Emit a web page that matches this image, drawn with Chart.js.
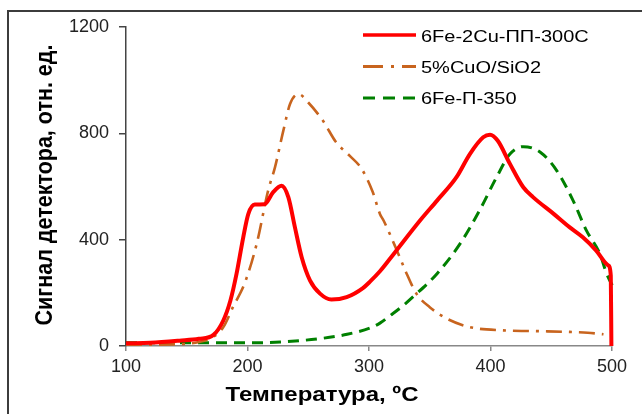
<!DOCTYPE html>
<html>
<head>
<meta charset="utf-8">
<script src="https://cdn.jsdelivr.net/npm/chart.js@4/dist/chart.umd.min.js"></script>
<style>
  html, body { margin: 0; padding: 0; background: #fff; }
  #wrap { width: 642px; height: 414px; position: relative; }
</style>
</head>
<body>
<div id="wrap"><canvas id="tprChart"></canvas></div>
<script>
// series labels
const seriesNames = ['6Fe-2Cu-ПП-300C', '5%CuO/SiO2', '6Fe-П-350'];

// 6Fe-2Cu-ПП-300C
const redT = [100, 120, 144, 160, 172, 180, 186, 191, 196.5, 200.7, 206, 214, 221, 228, 233.6, 239, 244.6, 251.4, 259.7, 269, 281.6, 295, 301, 309, 321, 342, 356, 372, 383, 394, 399.6, 406, 416, 427, 435, 452, 465, 476, 487, 497, 499, 499.5];
const redS = [10, 12, 20, 27, 42, 95, 172, 272, 409, 497, 532, 533, 578, 603, 560, 447, 334, 247, 197, 175, 184, 218, 243, 281, 350, 472, 547, 635, 722, 785, 795, 772, 685, 597, 560, 497, 447, 409, 359, 303, 265, 0];

// 5%CuO/SiO2
const orangeT = [100, 140, 160, 172, 180, 188, 198, 207.6, 217, 222.6, 229.5, 235, 242, 250, 262, 273, 284, 294, 303, 309, 312, 323, 331, 339, 350, 364, 383, 410, 438, 465, 480, 493];
const orangeS = [5, 6, 15, 35, 70, 146, 240, 385, 585, 672, 810, 910, 948, 916, 848, 766, 716, 666, 580, 497, 472, 359, 272, 197, 146, 103, 71, 59, 56, 53, 50, 44];

// 6Fe-П-350
const greenT = [100, 150, 200, 227, 260, 282, 301, 309, 317, 327, 336.5, 356, 375, 391, 405, 416, 427, 441, 454.5, 468, 479, 490, 495.6, 502.5];
const greenS = [12, 12, 12, 15, 28, 44, 68, 86, 113, 148, 186, 272, 385, 510, 635, 722, 750, 729, 660, 547, 434, 347, 272, 209];

const xTicks = [100, 200, 300, 400, 500];
const yTicks = [0, 400, 800, 1200];

const colors = ['#ff0000', '#c8641e', '#008000'];
const dashes = [[], [16, 7, 3, 7], [11, 7]];
const widths = [4, 2.6, 3];

function pts(xs, ys) {
  return xs.map((x, i) => ({ x: x, y: ys[i] }));
}

const seriesData = [pts(redT, redS), pts(orangeT, orangeS), pts(greenT, greenS)];

const decor = {
  id: 'decor',
  afterDraw(chart) {
    const ctx = chart.ctx;
    ctx.save();
    // outer frame (cut by page edges)
    ctx.strokeStyle = '#3c3c3c';
    ctx.lineWidth = 2;
    ctx.strokeRect(8, 11, 700, 500);

    ctx.fillStyle = '#000';
    // x title
    ctx.save();
    ctx.translate(322, 401);
    ctx.scale(1.2, 1);
    ctx.font = 'bold 20px "Liberation Sans", Arial, sans-serif';
    ctx.textAlign = 'center';
    ctx.textBaseline = 'alphabetic';
    ctx.fillText('Температура, ºC', 0, 0);
    ctx.restore();

    // y title
    ctx.save();
    ctx.translate(52, 185);
    ctx.rotate(-Math.PI / 2);
    ctx.scale(1, 1.15);
    ctx.font = 'bold 21.5px "Liberation Sans", Arial, sans-serif';
    ctx.textAlign = 'center';
    ctx.textBaseline = 'alphabetic';
    ctx.fillText('Сигнал детектора, отн. ед.', 0, 0);
    ctx.restore();

    // legend
    const rows = [35, 66.5, 98];
    const base = [41.7, 73, 103.5];
    chart.data.datasets.forEach((ds, i) => {
      ctx.save();
      ctx.strokeStyle = ds.borderColor;
      ctx.lineWidth = i === 0 ? 3.5 : 3;
      ctx.setLineDash(i === 1 ? [20, 8, 3, 8] : i === 2 ? [12, 8] : []);
      ctx.beginPath();
      ctx.moveTo(363, rows[i]);
      ctx.lineTo(416, rows[i]);
      ctx.stroke();
      ctx.restore();

      ctx.save();
      ctx.translate(421, base[i]);
      ctx.scale(1.25, 1);
      ctx.font = '16px "Liberation Sans", Arial, sans-serif';
      ctx.fillStyle = '#000';
      ctx.textAlign = 'left';
      ctx.textBaseline = 'alphabetic';
      ctx.fillText(ds.label, 0, 0);
      ctx.restore();
    });
    ctx.restore();
  }
};

new Chart(document.getElementById('tprChart').getContext('2d'), {
  type: 'line',
  data: {
    datasets: seriesNames.map((name, i) => ({
      label: name,
      data: seriesData[i],
      borderColor: colors[i],
      backgroundColor: colors[i],
      borderWidth: widths[i],
      borderDash: dashes[i],
      pointRadius: 0,
      fill: false,
      cubicInterpolationMode: 'monotone',
      clip: false
    }))
  },
  options: {
    responsive: true,
    maintainAspectRatio: false,
    animation: false,
    layout: { padding: { top: 27, right: 30, left: 0, bottom: 0 } },
    plugins: {
      legend: { display: false },
      tooltip: { enabled: false }
    },
    scales: {
      x: {
        type: 'linear',
        min: 100,
        max: 500,
        afterFit: s => { s.height = 68; },
        afterBuildTicks: s => { s.ticks = xTicks.map(v => ({ value: v })); },
        ticks: {
          color: '#222',
          font: { family: '"Liberation Sans", Arial, sans-serif', size: 18 },
          padding: 5,
          callback: v => String(v)
        },
        grid: { display: true, drawOnChartArea: false, drawTicks: true, tickLength: 5, color: '#888', lineWidth: 1.5 },
        border: { color: '#888', width: 1.5 }
      },
      y: {
        min: 0,
        max: 1200,
        afterFit: s => { s.width = 126; },
        afterBuildTicks: s => { s.ticks = yTicks.map(v => ({ value: v })); },
        ticks: {
          color: '#222',
          font: { family: '"Liberation Sans", Arial, sans-serif', size: 18 },
          padding: 10,
          callback: v => String(v)
        },
        grid: { display: true, drawOnChartArea: false, drawTicks: true, tickLength: 7, color: '#444', lineWidth: 1.5 },
        border: { color: '#444', width: 1.5 }
      }
    }
  },
  plugins: [decor]
});
</script>
</body>
</html>
